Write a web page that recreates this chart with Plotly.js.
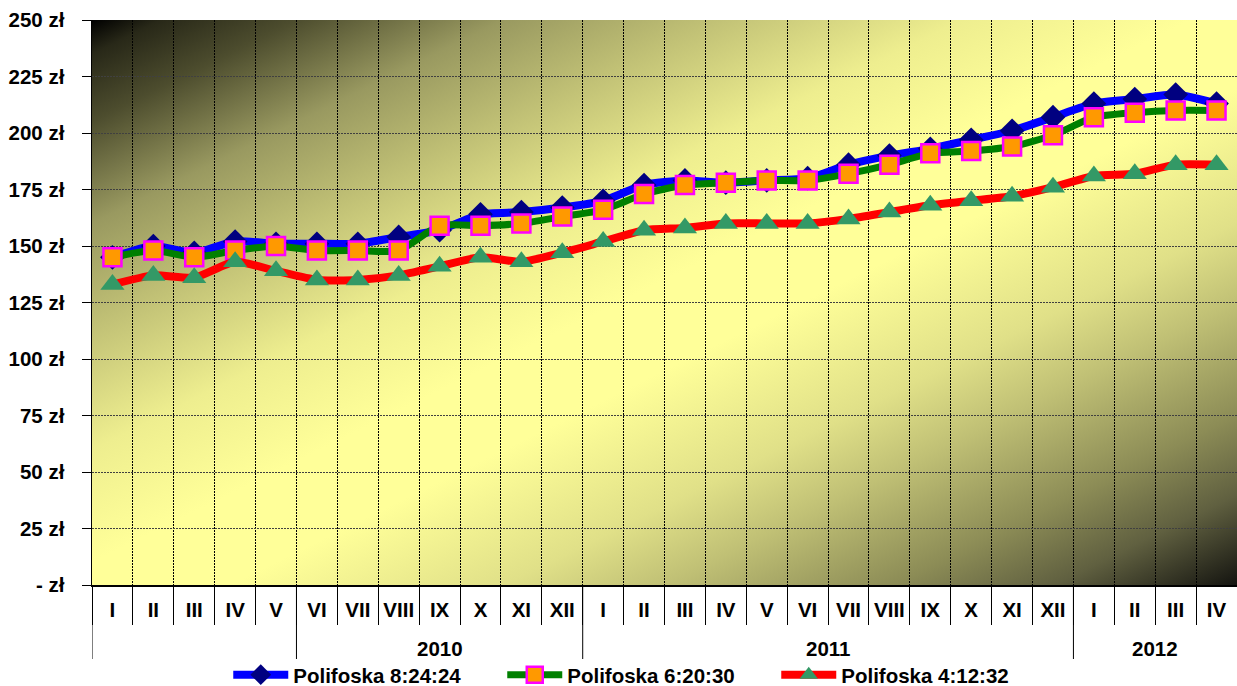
<!DOCTYPE html>
<html><head><meta charset="utf-8">
<script src="https://cdn.plot.ly/plotly-3.0.1.min.js"></script>
<style>html,body{margin:0;padding:0;background:#fff;} #chart{width:1237px;height:686px;}</style>
</head><body><div id="chart"></div>
<script>
const months = ['I','II','III','IV','V','VI','VII','VIII','IX','X','XI','XII',
                'I','II','III','IV','V','VI','VII','VIII','IX','X','XI','XII',
                'I','II','III','IV'];
const yearLabels = ['','','','','','2010','','','','','','',
                    '2011','','','','','','','','','','','',
                    '2012','','',''];
const seriesNames = ['Polifoska 8:24:24','Polifoska 6:20:30','Polifoska 4:12:32'];
const polifoska82424 = [145,150,147,152,151,151,151,154,157,164,165,167,170,177,179,178,179,180,186,190,193,197,201,207,213,215,217,213];
const polifoska62030 = [145,148,145,148,150,148,148,148,159,159,160,163,166,173,177,178,179,179,182,186,191,192,194,199,207,209,210,210];
const polifoska41232 = [133,137,136,143,139,135,135,137,141,145,143,147,152,157,158,160,160,160,162,165,168,170,172,176,181,182,186,186];
const yTickValues = [0,25,50,75,100,125,150,175,200,225,250];
const yTickLabels = ['- zł','25 zł','50 zł','75 zł','100 zł','125 zł','150 zł','175 zł','200 zł','225 zł','250 zł'];

const FONT = 'Arial, "Liberation Sans", sans-serif';
const xIdx = months.map((m, i) => i);
const n = months.length;
const boundaries = [];
for (let i = 0; i <= n; i++) boundaries.push(i - 0.5);

// year groups (outer category level)
const groupStarts = [0];
yearLabels.forEach((y, i) => { if (y !== '' && i !== 0) groupStarts.push(i); });
const groups = groupStarts.map((s, k) => {
  const e = k + 1 < groupStarts.length ? groupStarts[k + 1] : n;
  return {label: yearLabels[s], from: s - 0.5, to: e - 0.5};
});

const shapes = groups.map(g => ({
  type: 'line', xref: 'x', yref: 'paper', x0: g.from, x1: g.from, y0: 0, y1: -0.131,
  line: {color: '#000', width: 1}
}));
const annotations = groups.filter(g => g.label !== '').map(g => ({
  xref: 'x', yref: 'paper', x: (g.from + g.to) / 2, y: -0.113, yanchor: 'middle',
  text: g.label, showarrow: false, font: {family: FONT, size: 20.5, color: '#000', weight: 'bold'}
}));

const stops = [
  [0, '#000000'], [0.03, '#282818'], [0.09, '#4d4d2e'], [0.18, '#999960'], [0.27, '#c0c075'],
  [0.38, '#eeee8f'], [0.48, '#ffff99'], [0.56, '#ffff99'], [0.68, '#e0e088'], [0.75, '#c0c075'],
  [0.85, '#8c8c56'], [0.92, '#606040'], [1, '#141410']
].map(s => `<stop offset="${s[0]}" stop-color="${s[1]}"/>`).join('');
const svg = `<svg xmlns="http://www.w3.org/2000/svg" width="1145" height="565" viewBox="0 0 1145 565" preserveAspectRatio="none"><defs><linearGradient id="g" x1="0" y1="0" x2="1" y2="1">${stops}</linearGradient></defs><rect width="1145" height="565" fill="url(#g)"/></svg>`;
const bgSrc = 'data:image/svg+xml;charset=utf-8,' + encodeURIComponent(svg);

const traces = [
  {x: xIdx, y: polifoska82424, name: seriesNames[0], type: 'scatter', mode: 'lines+markers',
   line: {color: '#0000ff', width: 8, shape: 'spline', smoothing: 0.6},
   marker: {symbol: 'diamond', size: 19, color: '#000080', line: {width: 0}}},
  {x: xIdx, y: polifoska62030, name: seriesNames[1], type: 'scatter', mode: 'lines+markers',
   line: {color: '#008000', width: 7, shape: 'spline', smoothing: 0.6},
   marker: {symbol: 'square', size: 18, color: '#ff9900', line: {width: 2.5, color: '#ff00ff'}}},
  {x: xIdx, y: polifoska41232, name: seriesNames[2], type: 'scatter', mode: 'lines+markers',
   xaxis: 'x2',
   line: {color: '#ff0000', width: 8, shape: 'spline', smoothing: 0.6},
   marker: {symbol: 'triangle-up', size: 21, color: '#339966', line: {width: 0}}}
];

const layout = {
  width: 1237, height: 686,
  margin: {l: 92, r: 0, t: 20, b: 101, autoexpand: false},
  paper_bgcolor: '#ffffff', plot_bgcolor: '#ffff99',
  font: {family: FONT, size: 20.5, color: '#000', weight: 'bold'},
  showlegend: true,
  legend: {orientation: 'h', x: 0.119, xanchor: 'left', y: -0.159, yanchor: 'middle',
           itemwidth: 55, entrywidth: 204, font: {family: FONT, size: 20.5, color: '#000', weight: 'bold'},
           bgcolor: 'rgba(0,0,0,0)', tracegroupgap: 0},
  xaxis: {range: [-0.5, n - 0.5], tickmode: 'array', tickvals: boundaries, showticklabels: false,
          ticks: 'outside', ticklen: 38, tickcolor: '#000', tickwidth: 1,
          showgrid: true, gridcolor: '#000', gridwidth: 1, griddash: '2px,1px',
          showline: true, linecolor: '#000', linewidth: 1.5, zeroline: false, fixedrange: true},
  xaxis2: {overlaying: 'x', anchor: 'y', side: 'bottom', range: [-0.5, n - 0.5], tickmode: 'array',
           tickvals: xIdx, ticktext: months, ticks: '', showgrid: false, showline: false, zeroline: false,
           ticklabelstandoff: 10, fixedrange: true,
           tickfont: {family: FONT, size: 20.5, color: '#000', weight: 'bold'}},
  yaxis: {range: [0, 250], tickmode: 'array', tickvals: yTickValues, ticktext: yTickLabels,
          ticks: 'outside', ticklen: 9, tickcolor: '#000', tickwidth: 1, ticklabelstandoff: 13,
          showgrid: true, gridcolor: '#404040', gridwidth: 1, griddash: '2px,1px',
          showline: true, linecolor: '#000', linewidth: 1.5, zeroline: false, fixedrange: true},
  images: [{source: bgSrc, xref: 'paper', yref: 'paper', x: 0, y: 1, sizex: 1, sizey: 1,
            xanchor: 'left', yanchor: 'top', sizing: 'stretch', layer: 'below'}],
  shapes: shapes,
  annotations: annotations
};

Plotly.newPlot('chart', traces, layout, {displayModeBar: false, staticPlot: true});
</script></body></html>
